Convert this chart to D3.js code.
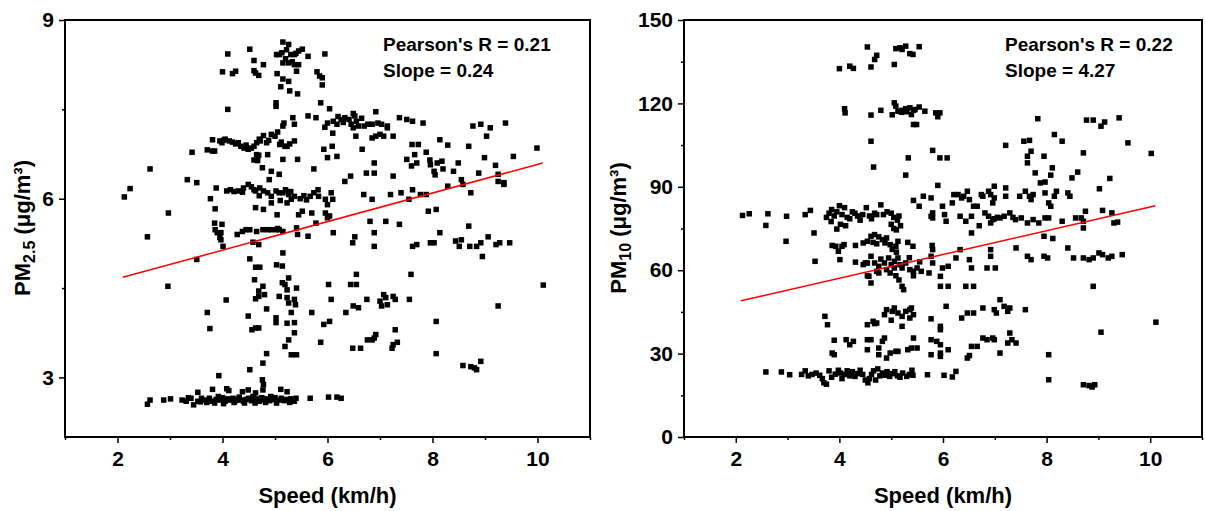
<!DOCTYPE html>
<html>
<head>
<meta charset="utf-8">
<script src="https://cdn.jsdelivr.net/npm/d3@7"></script>
<style>
  body { margin: 0; background: #fff; }
  text { font-family: "Liberation Sans", Arial, sans-serif; font-weight: bold; fill: #000; }
</style>
</head>
<body>
<div id="chart"></div>
<script>
// speed (km/h) vs PM2.5 (ug/m3)
var pm25Pts = [
  [4.10,8.43],[4.00,8.13],[4.19,8.10],[4.25,8.14],[4.52,8.51],[4.60,8.32],[4.60,8.15],[4.63,8.11],[4.69,8.07],[4.78,8.25],
  [5.03,8.42],[5.08,8.42],[5.13,8.45],[5.15,8.63],[5.26,8.59],[5.15,8.28],[5.26,8.28],[5.30,8.42],[5.37,8.42],[5.45,8.48],
  [5.52,8.51],[5.63,8.39],[5.04,8.10],[5.15,8.01],[5.26,7.97],[5.37,8.25],[5.41,8.14],[5.45,8.25],[5.11,7.88],[5.28,7.81],
  [5.43,7.76],[5.80,8.13],[5.85,8.06],[5.90,8.03],[5.90,7.91],[5.95,8.43],[5.20,8.35],[5.33,8.30],[5.22,8.50],[5.40,8.44],
  [4.10,7.50],[5.02,7.61],[5.02,7.55],[5.87,7.61],[6.04,7.51],
  [5.15,7.22],[5.17,7.27],[5.34,7.36],[5.37,7.25],[5.63,7.39],[5.78,7.36],[6.00,7.27],[6.11,7.30],[6.18,7.25],[6.26,7.33],
  [6.33,7.36],[6.41,7.33],[6.49,7.43],[6.52,7.39],[6.55,7.30],[6.59,7.22],[6.49,7.19],[6.54,7.05],[6.70,7.22],[6.77,7.25],
  [6.85,7.25],[6.92,7.46],[6.96,7.27],[7.03,7.25],[7.14,7.22],[7.14,7.19],[7.37,7.36],[7.51,7.33],[7.62,7.30],[7.82,7.27],
  [6.85,7.02],[6.92,7.05],[7.00,7.08],[7.07,7.05],[7.25,7.05],[8.77,7.22],[8.92,7.25],[9.10,7.19],[9.39,7.27],[9.03,7.05],
  [9.99,6.85],[6.20,7.38],[6.30,7.28],[6.45,7.25],[6.65,7.35],[6.10,7.10],[5.95,7.20],
  [3.81,6.99],[3.85,6.80],[3.95,6.97],[3.99,6.94],[4.02,6.98],[4.13,6.97],[4.19,6.95],[4.30,6.94],[4.35,6.88],[4.41,6.85],
  [4.49,6.83],[4.55,6.85],[4.60,6.88],[4.65,6.94],[4.72,6.97],[4.78,7.06],[4.84,6.94],[4.93,7.08],[5.00,7.05],[5.09,6.91],
  [5.19,6.88],[5.23,6.88],[5.37,6.97],[3.42,6.78],[3.71,6.82],[3.81,6.80],[4.65,6.74],[4.69,6.73],[4.86,6.74],[4.05,7.00],
  [4.25,6.92],[4.45,6.90],[4.70,7.00],[4.88,6.98],[5.05,7.12],[5.12,6.95],[5.28,6.92],
  [4.60,6.65],[4.67,6.64],[4.76,6.52],[4.93,6.46],[4.89,6.32],[5.08,6.41],[5.15,6.66],[5.43,6.66],[5.74,6.50],[5.93,6.83],
  [6.00,6.69],[6.09,6.88],[6.18,6.71],[6.33,6.29],[6.44,6.38],[6.66,6.83],[6.74,6.43],[6.89,6.43],[6.89,6.60],[7.25,6.38],
  [7.51,6.66],[7.60,6.55],[7.70,6.60],[7.73,6.91],[7.88,6.78],[7.96,6.57],[8.03,6.46],[8.09,6.60],[8.18,6.63],[8.14,6.99],
  [8.29,6.90],[8.40,6.46],[8.49,6.60],[8.69,6.88],[8.88,6.43],[8.99,6.69],[9.20,6.56],[9.25,6.41],[9.36,6.24],[9.54,6.71],
  [7.61,6.91],[7.66,6.74],[7.95,6.65],[8.05,6.40],[8.20,6.50],
  [2.13,6.03],[2.24,6.17],[2.62,6.50],[3.33,6.32],[3.51,6.27],[3.77,6.00],[3.88,6.18],[3.86,5.83],[4.08,6.13],[4.15,6.15],
  [4.22,6.12],[4.30,6.13],[4.38,6.11],[4.49,6.24],[4.60,6.15],[4.63,6.13],[4.71,6.18],[4.78,6.13],[4.86,6.10],[4.93,6.04],
  [5.02,6.13],[5.08,6.10],[5.15,6.10],[5.26,6.07],[5.31,5.99],[5.37,6.04],[5.48,6.00],[5.67,6.04],[5.74,6.10],[5.82,6.15],
  [5.83,6.04],[5.96,5.99],[6.00,5.90],[6.07,6.10],[6.10,5.99],[4.63,5.85],[4.78,5.82],[4.93,5.93],[5.04,5.73],[5.23,5.93],
  [5.45,5.73],[5.52,5.79],[5.70,5.76],[5.96,5.76],[6.00,5.68],[6.69,6.07],[6.85,5.99],[7.20,6.07],[7.40,6.10],[7.62,6.15],
  [7.77,6.07],[7.88,6.07],[7.92,5.79],[8.07,5.82],[8.29,6.21],[8.55,6.32],[8.58,6.24],[8.73,6.10],[9.25,6.29],[9.36,6.27],
  [4.40,6.18],[4.55,6.20],[4.70,6.05],[5.20,6.15],[5.30,6.12],[5.55,6.05],[5.60,5.98],[5.10,5.97],
  [2.57,5.36],[2.97,5.76],[3.86,5.48],[3.90,5.43],[3.85,5.59],[3.99,5.57],[3.97,5.43],[3.97,5.31],[4.28,5.40],[4.38,5.45],
  [4.45,5.48],[4.52,5.48],[4.77,5.48],[4.86,5.48],[4.93,5.48],[5.02,5.48],[5.08,5.48],[5.15,5.45],[5.41,5.51],[5.43,5.40],
  [5.63,5.37],[4.58,5.27],[4.69,5.23],[4.01,5.20],[3.51,4.98],[6.04,5.71],[6.11,5.43],[5.78,5.59],[6.81,5.62],[6.89,5.43],
  [7.11,5.62],[7.37,5.57],[7.55,5.99],[6.48,5.26],[6.52,5.36],[6.89,5.20],[7.62,5.20],[7.70,5.23],[7.96,5.26],[8.03,5.26],
  [8.14,5.43],[8.44,5.29],[8.51,5.20],[8.55,5.31],[8.71,5.20],[8.84,5.20],[8.92,5.26],[9.06,5.36],[9.21,5.23],[9.28,5.26],
  [9.47,5.26],[8.69,5.54],[8.95,5.03],[3.95,5.35],[4.65,5.45],[5.05,5.50],
  [4.52,4.99],[4.63,4.85],[4.71,4.85],[4.61,4.64],[4.77,4.53],[4.69,4.45],[4.69,4.36],[4.80,4.39],[4.84,4.15],[4.49,4.03],
  [4.56,3.80],[4.63,3.83],[4.69,3.83],[4.63,4.32],[5.03,4.89],[5.14,4.87],[5.15,5.09],[5.14,4.59],[5.19,4.56],[5.26,4.67],
  [5.23,4.47],[5.08,4.36],[5.23,4.34],[5.26,4.25],[5.37,4.31],[5.41,4.50],[5.39,4.22],[5.31,4.09],[5.23,3.91],[5.02,3.92],
  [5.02,4.00],[5.37,3.92],[5.37,3.75],[5.26,3.63],[5.19,3.52],[5.31,3.38],[5.41,3.38],[5.70,4.09],[5.93,3.89],[6.04,3.94],
  [5.87,3.59],[6.02,4.56],[6.07,4.31],[6.35,4.09],[6.44,4.56],[6.49,4.20],[6.55,4.73],[6.55,4.56],[6.59,4.17],[6.75,4.31],
  [4.84,3.40],[4.77,3.24],[4.52,3.13],[4.76,2.96],[4.78,2.88],[3.93,3.03],[2.96,4.53],[4.07,4.30],[3.71,4.09],[3.76,3.82],
  [6.85,3.63],[6.92,3.72],[6.89,3.66],[6.76,3.63],[6.63,3.49],[6.48,3.49],[7.11,4.34],[7.07,4.39],[7.00,4.28],[7.03,4.20],
  [7.14,4.22],[7.29,4.31],[7.25,4.36],[7.56,4.31],[7.59,4.73],[7.29,3.80],[7.33,3.59],[7.25,3.55],[7.23,3.49],[8.07,3.94],
  [8.07,3.40],[8.58,3.20],[8.73,3.18],[8.80,3.16],[8.84,3.13],[8.92,3.27],[9.25,4.20],[10.11,4.55],
  [2.57,2.55],[2.62,2.62],[2.88,2.62],[3.01,2.64],[3.23,2.62],[3.31,2.60],[3.40,2.65],[3.45,2.54],[3.53,2.60],[3.60,2.65],
  [3.68,2.62],[3.75,2.65],[3.80,2.60],[3.88,2.63],[3.95,2.62],[4.00,2.66],[4.05,2.60],[4.10,2.64],[4.15,2.62],[4.20,2.65],
  [4.25,2.61],[4.30,2.64],[4.35,2.62],[4.40,2.60],[4.45,2.63],[4.50,2.65],[4.55,2.61],[4.60,2.62],[4.65,2.64],[4.70,2.60],
  [4.75,2.66],[4.80,2.62],[4.85,2.64],[4.90,2.61],[4.95,2.63],[5.00,2.66],[5.03,2.57],[5.08,2.62],[5.12,2.65],[5.18,2.61],
  [5.22,2.63],[5.30,2.64],[5.37,2.60],[5.40,2.65],[5.67,2.65],[6.02,2.67],[6.18,2.67],[6.26,2.65],
  [3.53,2.75],[3.81,2.80],[4.08,2.81],[4.12,2.78],[4.38,2.76],[4.49,2.79],[4.63,2.74],[4.77,2.79],[5.11,2.80],[5.23,2.76],
  [3.70,2.58],[3.85,2.57],[4.02,2.56],[4.22,2.58],[4.42,2.57],[4.62,2.57],[4.82,2.58],[3.58,2.59],[3.92,2.68],[4.32,2.67],
  [4.58,2.68],[4.92,2.68],[5.28,2.58],[3.35,2.66]
];

// speed (km/h) vs PM10 (ug/m3)
var pm10Pts = [
  [4.54,140.3],[4.00,132.5],[4.20,133.4],[4.27,132.6],[4.61,133.1],[4.68,135.8],[4.72,137.3],[5.06,134.0],[5.09,139.7],[5.17,140.0],
  [5.28,140.6],[5.21,139.4],[5.36,137.9],[5.42,137.6],[5.54,140.4],
  [4.10,118.1],[4.11,116.6],[4.61,115.8],[4.80,117.5],[5.02,115.9],[5.06,120.2],[5.09,119.0],[5.13,117.2],[5.21,117.5],[5.28,118.1],
  [5.36,118.4],[5.43,117.5],[5.39,116.0],[5.46,117.8],[5.54,118.7],[5.65,117.2],[5.20,116.8],[5.30,117.0],[5.43,112.4],[5.49,112.4],
  [5.86,116.6],[5.94,116.6],[5.90,115.2],
  [4.61,106.4],[4.66,97.1],[5.33,100.4],[5.28,94.2],[5.80,103.1],[5.94,100.4],[6.08,100.4],[5.90,90.5],
  [7.21,104.9],[7.56,106.4],[7.67,106.7],[7.63,101.0],[7.63,98.6],[7.70,102.8],[7.83,114.5],[7.95,101.0],[7.78,95.0],[7.88,91.4],
  [7.97,91.7],[8.08,94.2],[8.11,96.8],[8.15,108.8],[8.30,106.4],[8.49,93.2],[8.60,95.3],[8.71,102.2],[8.77,114.0],[8.90,114.0],
  [9.05,111.8],[9.12,113.3],[9.40,114.8],[9.22,93.0],[9.02,89.3],[9.57,105.8],[10.02,102.0],[9.08,81.5],
  [2.13,79.7],[2.26,80.3],[2.58,76.1],[2.62,80.3],[2.98,79.4],[2.97,70.4],[3.34,80.0],[3.44,81.5],[3.51,73.4],[3.53,63.2],
  [3.80,80.5],[3.85,81.8],[3.90,79.5],[3.95,81.0],[4.00,83.2],[4.05,80.0],[4.10,82.5],[4.15,79.0],[4.25,81.0],[4.30,80.5],
  [4.35,79.5],[4.40,78.0],[4.45,80.0],[4.52,82.5],[4.58,79.5],[4.62,78.5],[4.68,80.5],[4.72,80.0],[4.80,83.5],[4.85,80.0],
  [4.92,81.0],[5.00,80.5],[5.05,79.0],[5.12,78.0],[5.15,79.5],[5.00,76.5],[5.05,75.0],[3.84,77.5],[3.95,74.8],[4.02,76.5],
  [4.12,76.0],[5.18,76.0],[5.10,74.5],[4.20,78.5],[3.75,79.0],
  [3.86,68.9],[3.93,68.6],[4.05,68.6],[4.09,69.2],[3.98,66.8],[4.01,63.8],[4.31,68.9],[4.46,69.8],[4.54,70.4],[4.61,72.2],
  [4.68,72.8],[4.76,72.0],[4.83,71.0],[4.91,71.6],[4.98,69.2],[5.09,68.6],[5.13,70.4],[5.32,70.0],[5.42,68.6],[5.79,68.9],
  [4.65,70.0],[4.72,69.5],[4.88,69.8],[5.02,67.5],[5.10,66.5],
  [4.31,62.9],[4.54,62.6],[4.61,65.0],[4.68,62.6],[4.76,61.4],[4.87,62.6],[4.95,64.4],[5.06,63.2],[5.13,64.4],[5.17,62.0],
  [5.21,60.8],[5.28,62.6],[5.36,60.2],[5.43,59.6],[5.50,60.8],[5.58,59.6],[5.43,58.0],[5.21,54.2],[5.24,53.0],[4.61,55.4],
  [4.76,59.0],[4.91,60.2],[4.98,59.0],[5.06,60.8],[5.09,58.0],[4.72,59.6],[4.54,58.0],[4.46,62.0],[4.50,62.6],[4.57,57.8],
  [5.15,56.5],[5.00,62.0],[4.80,64.0],[5.35,64.5],[5.55,63.0],
  [5.43,85.1],[5.54,83.0],[5.62,86.6],[5.77,86.0],[5.77,79.4],[5.80,78.8],[5.80,80.6],[5.99,83.0],[6.03,80.0],[6.06,77.6],
  [6.18,84.2],[6.21,87.2],[6.29,87.2],[6.36,86.0],[6.40,86.6],[6.47,88.4],[6.51,85.4],[6.59,83.0],[6.55,79.4],[6.33,79.4],
  [6.44,77.6],[6.55,73.4],[6.66,83.0],[6.74,87.2],[6.77,86.6],[6.88,88.4],[6.92,87.2],[6.99,90.2],[6.99,86.0],[6.96,84.2],
  [7.21,89.6],[7.21,86.6],
  [6.70,76.0],[6.81,80.6],[6.88,79.4],[6.96,78.2],[6.99,78.5],[7.10,78.8],[7.18,79.4],[7.29,80.6],[7.40,78.2],[7.51,78.8],
  [7.63,77.0],[7.74,78.2],[7.85,77.0],[7.97,78.8],[8.04,78.8],[6.92,77.0],[7.05,79.0],[7.35,79.0],
  [7.48,86.6],[7.59,88.4],[7.67,86.6],[7.70,85.4],[7.74,87.2],[7.97,87.8],[8.04,84.2],[8.08,83.0],[8.15,86.6],[8.19,88.4],
  [8.30,77.6],[8.41,87.8],[8.45,86.6],[8.56,78.8],[8.67,78.8],[8.71,75.2],[8.71,77.6],
  [8.41,68.0],[8.52,64.4],[8.71,64.4],[8.82,63.8],[8.90,64.4],[9.01,66.2],[9.08,65.6],[9.19,64.4],[9.26,65.0],[9.46,65.6],
  [8.90,54.2],[8.75,81.2],[9.26,80.6],[9.30,77.0],[9.37,77.3],
  [7.95,72.2],[8.12,71.4],[7.95,65.0],[8.02,64.4],[7.63,65.0],[7.70,63.8],[7.41,68.0],[6.92,67.4],[6.92,65.0],[6.85,60.8],
  [7.01,60.8],[6.55,60.8],[6.51,63.8],[6.44,54.2],[6.59,54.2],[6.33,67.4],[6.25,64.4],[6.10,61.4],[5.95,57.8],[5.99,60.8],
  [5.80,62.6],[5.77,65.0],[5.73,59.0],[6.10,54.2],[5.95,54.2],[5.80,67.4],
  [3.72,43.4],[3.77,40.4],[4.54,40.4],[4.65,41.6],[4.72,41.0],[4.87,44.0],[4.91,45.8],[5.02,45.2],[5.06,46.4],[5.13,44.6],
  [5.21,43.4],[5.28,45.2],[5.36,45.8],[5.39,46.4],[5.36,42.8],[5.43,44.0],[5.21,39.8],[5.77,42.5],[6.06,47.0],[5.95,38.6],
  [5.95,39.8],[6.36,42.8],[6.47,44.6],[6.59,44.6],[6.77,46.4],[6.99,45.8],[7.10,49.4],[7.03,44.6],[7.18,47.0],[7.25,45.2],
  [7.29,46.4],[7.59,45.8],[4.68,40.8],[5.00,42.0],
  [3.90,34.8],[3.90,29.6],[3.86,30.2],[4.13,35.0],[4.20,33.2],[4.27,34.4],[4.54,35.0],[4.61,35.0],[4.54,31.4],[4.76,32.0],
  [4.83,34.4],[4.87,35.6],[4.76,29.6],[4.91,28.4],[4.98,30.2],[5.09,30.8],[5.13,30.8],[5.32,31.4],[5.39,32.0],[5.50,32.0],
  [5.43,35.6],[5.77,35.0],[5.88,34.4],[5.95,33.2],[5.95,30.2],[6.10,31.4],[5.77,29.6],[5.95,29.0],[6.47,28.4],[6.51,29.3],
  [6.55,32.6],[6.66,32.6],[6.77,35.6],[6.85,35.0],[6.96,35.6],[6.99,35.0],[7.10,30.2],[7.25,33.8],[7.29,37.4],[7.33,35.0],
  [7.41,33.8],[8.04,29.6],[8.04,20.6],[9.05,37.7],[10.11,41.3],
  [2.58,23.4],[2.88,23.4],[3.04,22.4],[3.27,22.5],[3.34,23.8],[3.40,22.0],[3.47,22.5],[3.55,23.0],[3.62,22.2],[3.67,21.0],
  [3.70,19.5],[3.75,19.0],[3.80,23.8],[3.85,21.5],[3.92,22.6],[3.98,24.0],[4.02,23.0],[4.05,21.0],[4.10,22.5],[4.15,23.8],
  [4.20,22.0],[4.25,23.5],[4.30,21.8],[4.35,22.8],[4.40,24.0],[4.45,22.5],[4.50,20.5],[4.55,19.5],[4.58,21.0],[4.62,22.5],
  [4.66,23.8],[4.70,20.5],[4.74,24.5],[4.78,22.0],[4.83,23.0],[4.88,22.2],[4.92,23.5],[4.97,21.8],[5.02,22.8],[5.07,23.5],
  [5.12,22.0],[5.17,21.5],[5.22,23.0],[5.30,21.8],[5.35,22.5],[5.40,24.0],[5.42,22.2],[5.70,22.4],[6.02,22.2],[6.18,21.6],
  [6.25,23.6],[8.71,18.8],[8.82,18.5],[8.88,18.0],[8.93,18.8]
];

var speedTicks = [2, 4, 6, 8, 10];
var speedMinor = [1, 3, 5, 7, 9, 11];
var pm25Ticks = [3, 6, 9];
var pm25Minor = [4.5, 7.5];
var pm10Ticks = [0, 30, 60, 90, 120, 150];
var pm10Minor = [15, 45, 75, 105, 135];

// linear fits: [intercept, slope], drawn over the speed range
var fitRange = [2.1, 10.1];
var fit25 = [4.176, 0.24];
var fit10 = [40.03, 4.27];
var pearson = ["0.21", "0.22"];
var slopeTxt = ["0.24", "4.27"];

var svg = d3.select("#chart").append("svg")
  .attr("width", 1206)
  .attr("height", 511);

function drawPanel(o) {
  var x = d3.scaleLinear().domain([1, 11]).range([o.left, o.right]);
  var y = d3.scaleLinear().domain(o.yDomain).range([437, 20]);
  var g = svg.append("g");

  // ticks
  g.append("g").attr("transform", "translate(0,437)")
    .call(d3.axisBottom(x).tickValues(speedTicks).tickSize(6).tickPadding(8).tickFormat(function(d) { return d; }));
  g.append("g").attr("transform", "translate(0,437)")
    .call(d3.axisBottom(x).tickValues(speedMinor).tickSize(3).tickFormat(""));
  g.append("g").attr("transform", "translate(" + o.left + ",0)")
    .call(d3.axisLeft(y).tickValues(o.yTicks).tickSize(6).tickPadding(5).tickFormat(function(d) { return d; }));
  g.append("g").attr("transform", "translate(" + o.left + ",0)")
    .call(d3.axisLeft(y).tickValues(o.yMinor).tickSize(3).tickFormat(""));
  g.selectAll(".domain").remove();
  g.selectAll(".tick line").attr("stroke", "#000").attr("stroke-width", 1.5);
  g.selectAll(".tick text").style("font-size", "21px").style("font-family", "'Liberation Sans', Arial, sans-serif").style("font-weight", "bold");

  // points
  g.selectAll("rect.pt")
    .data(o.pts)
    .enter()
    .append("rect")
    .attr("class", "pt")
    .attr("x", function(d) { return x(d[0]) - 2.75; })
    .attr("y", function(d) { return y(d[1]) - 2.75; })
    .attr("width", 5.5)
    .attr("height", 5.5)
    .attr("fill", "#000");

  // fit line
  g.append("line")
    .attr("x1", x(fitRange[0])).attr("y1", y(o.fit[0] + o.fit[1] * fitRange[0]))
    .attr("x2", x(fitRange[1])).attr("y2", y(o.fit[0] + o.fit[1] * fitRange[1]))
    .attr("stroke", "#ff0000").attr("stroke-width", 1.5);

  // frame
  g.append("rect")
    .attr("x", o.left).attr("y", 20)
    .attr("width", o.right - o.left).attr("height", 417)
    .attr("fill", "none").attr("stroke", "#000").attr("stroke-width", 2);

  // stats
  g.append("text").attr("x", o.statX).attr("y", 51).style("font-size", "19px")
    .text("Pearson's R = " + o.r);
  g.append("text").attr("x", o.statX).attr("y", 77).style("font-size", "19px")
    .text("Slope = " + o.slope);

  // axis titles
  g.append("text").attr("x", (o.left + o.right) / 2).attr("y", 503)
    .attr("text-anchor", "middle").style("font-size", "22px")
    .text("Speed (km/h)");
  var yt = g.append("text")
    .attr("transform", "translate(" + o.titleX + ",228) rotate(-90)")
    .attr("text-anchor", "middle").style("font-size", "22px");
  yt.append("tspan").text("PM");
  yt.append("tspan").attr("dy", 5).style("font-size", "16px").text(o.sub);
  yt.append("tspan").attr("dy", -5).text(" (\u03bcg/m\u00b3)");
}

drawPanel({ left: 65, right: 590, yDomain: [2, 9], yTicks: pm25Ticks, yMinor: pm25Minor,
  pts: pm25Pts, fit: fit25, r: pearson[0], slope: slopeTxt[0], statX: 383, titleX: 30, sub: "2.5" });
drawPanel({ left: 684, right: 1202, yDomain: [0, 150], yTicks: pm10Ticks, yMinor: pm10Minor,
  pts: pm10Pts, fit: fit10, r: pearson[1], slope: slopeTxt[1], statX: 1005, titleX: 626, sub: "10" });
</script>
</body>
</html>
